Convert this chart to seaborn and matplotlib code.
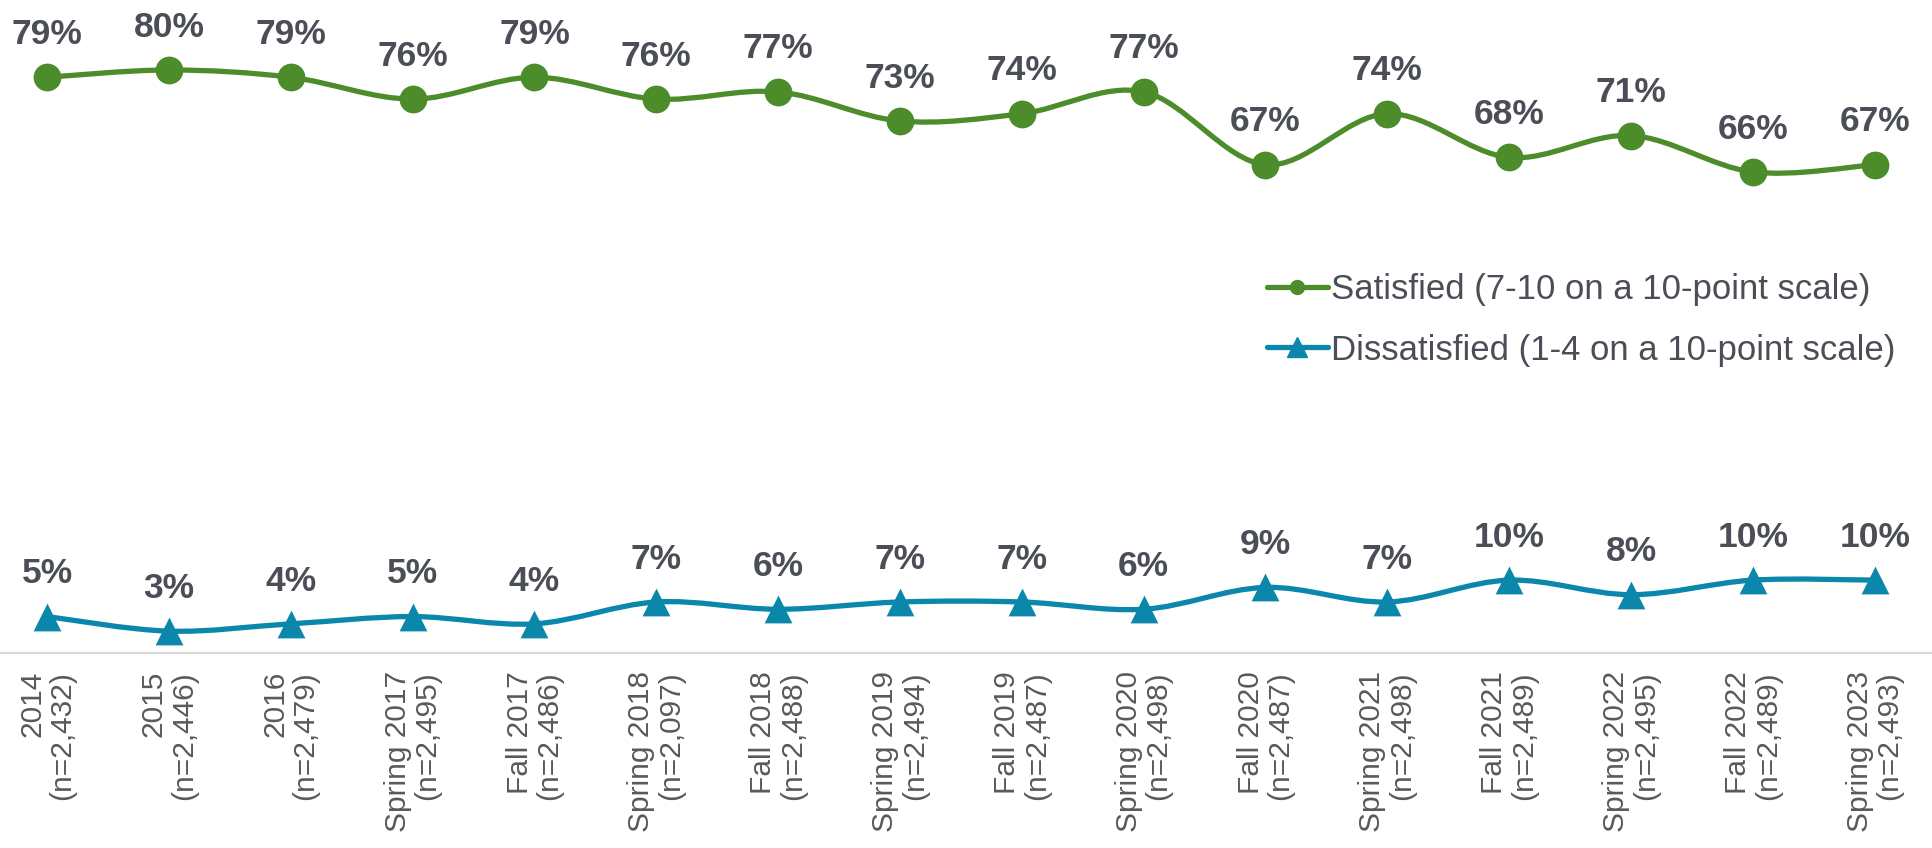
import pandas as pd
import seaborn as sns
import matplotlib.pyplot as plt
from matplotlib.path import Path
from matplotlib.patches import PathPatch
from matplotlib.lines import Line2D

periods = ["2014", "2015", "2016", "Spring 2017", "Fall 2017", "Spring 2018",
           "Fall 2018", "Spring 2019", "Fall 2019", "Spring 2020", "Fall 2020",
           "Spring 2021", "Fall 2021", "Spring 2022", "Fall 2022", "Spring 2023"]
sample_sizes = ["2,432", "2,446", "2,479", "2,495", "2,486", "2,097", "2,488",
                "2,494", "2,487", "2,498", "2,487", "2,498", "2,489", "2,495",
                "2,489", "2,493"]
satisfied = [79, 80, 79, 76, 79, 76, 77, 73, 74, 77, 67, 74, 68, 71, 66, 67]
dissatisfied = [5, 3, 4, 5, 4, 7, 6, 7, 7, 6, 9, 7, 10, 8, 10, 10]

GREEN = "#4D8C2A"
BLUE = "#0A87AB"
LABEL_GRAY = "#4B4E56"
TICK_GRAY = "#595959"

sns.set_theme(style="white")
plt.rcParams["font.family"] = ["Liberation Sans", "DejaVu Sans"]


def smooth_path(xs, ys):
    """Excel-like smoothed line: cubic Bezier segments through every point."""
    t = 1 / 6
    verts = [(xs[0], ys[0])]
    codes = [Path.MOVETO]
    n = len(xs)
    for i in range(n - 1):
        x0, y0 = xs[max(i - 1, 0)], ys[max(i - 1, 0)]
        x1, y1 = xs[i], ys[i]
        x2, y2 = xs[i + 1], ys[i + 1]
        x3, y3 = xs[min(i + 2, n - 1)], ys[min(i + 2, n - 1)]
        verts += [(x1 + (x2 - x0) * t, y1 + (y2 - y0) * t),
                  (x2 - (x3 - x1) * t, y2 - (y3 - y1) * t),
                  (x2, y2)]
        codes += [Path.CURVE4] * 3
    return Path(verts, codes)


def draw_series(ax, values, color, marker, name, legend_ms):
    df = pd.DataFrame({"x": range(len(values)), "value": values})
    patch = PathPatch(smooth_path(list(df["x"]), values), facecolor="none",
                      edgecolor=color, lw=3.8, capstyle="round", zorder=2)
    ax.add_patch(patch)
    sns.scatterplot(data=df, x="x", y="value", ax=ax, color=color, marker=marker,
                    s=20 ** 2, edgecolor=color, linewidth=0, zorder=3, clip_on=False)
    for x, v in zip(df["x"], values):
        ax.annotate(f"{v}%", (x, v), xytext=(0, 24), textcoords="offset points",
                    ha="center", va="baseline", fontsize=25.5, fontweight="bold",
                    color=LABEL_GRAY, annotation_clip=False)
    return Line2D([], [], color=color, lw=3.8, marker=marker, markersize=legend_ms,
                  label=name)


fig = plt.figure(figsize=(19.32, 8.48), dpi=100)
ax = fig.add_axes([0, 1 - 653 / 848, 1, 653 / 848])

h1 = draw_series(ax, satisfied, GREEN, "o", "Satisfied (7-10 on a 10-point scale)", 10)
h2 = draw_series(ax, dissatisfied, BLUE, "^", "Dissatisfied (1-4 on a 10-point scale)", 14)

ax.set_xlim(-0.386, 15.47)
ax.set_ylim(0, 89.6)
ax.set_xlabel("")
ax.set_ylabel("")
ax.set_yticks([])
ax.set_xticks(range(len(periods)))
ax.set_xticklabels([f"{p}\n(n={n})" for p, n in zip(periods, sample_sizes)],
                   rotation=90, ha="center", va="top", multialignment="right",
                   fontsize=21.5, color=TICK_GRAY, linespacing=1.08)
ax.tick_params(axis="x", length=0, pad=13)
for side in ["top", "left", "right"]:
    ax.spines[side].set_visible(False)
ax.spines["bottom"].set_color("#D9D9D9")
ax.spines["bottom"].set_linewidth(1.5)

leg = ax.legend(handles=[h1, h2], loc="center left",
                bbox_to_anchor=(1267 / 1932, 1 - 320 / 653), frameon=False,
                fontsize=25, labelcolor=LABEL_GRAY, handlelength=1.75,
                handletextpad=0.08, labelspacing=0.78, borderpad=0, borderaxespad=0)

fig.savefig("out.png", dpi=100)
